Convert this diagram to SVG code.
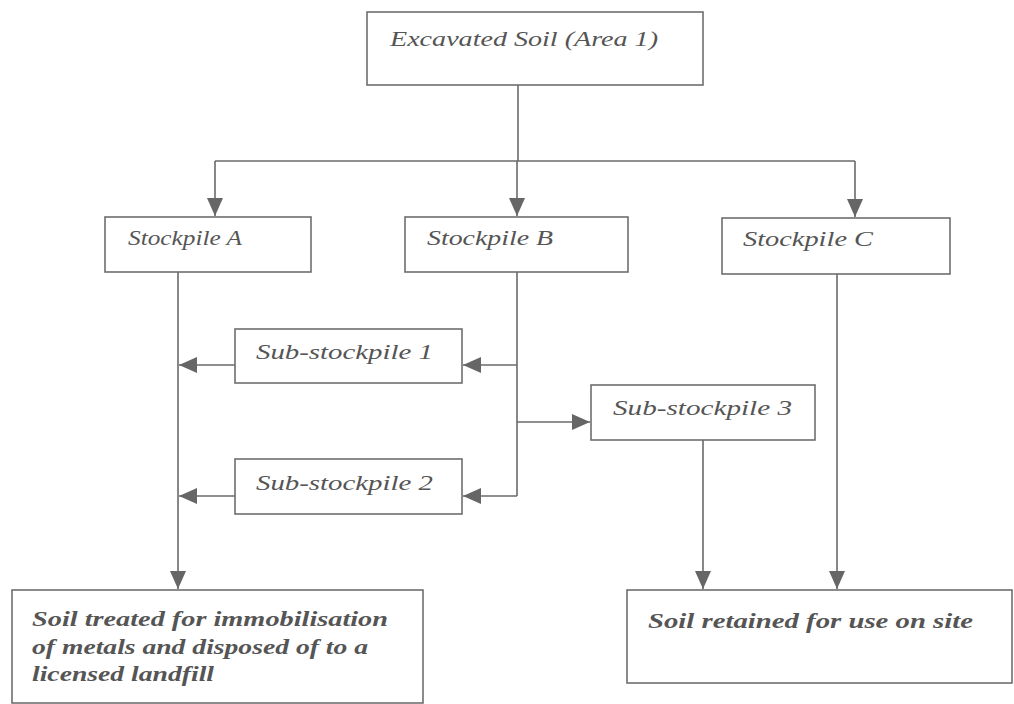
<svg xmlns="http://www.w3.org/2000/svg" width="1014" height="704" viewBox="0 0 1014 704">
<style>
.box{fill:#fff;stroke:#6e6e6e;stroke-width:1.6}
.lbl{font-style:italic;font-size:22px;fill:#555}
.blbl{font-style:italic;font-weight:bold;font-size:21px;fill:#555}
.ln{fill:none;stroke:#6a6a6a;stroke-width:1.6}
</style>
<defs>
<marker id="ah" markerUnits="userSpaceOnUse" markerWidth="18" markerHeight="18" viewBox="0 0 18 16" refX="18" refY="8" orient="auto">
<path d="M0,0 L18,8 L0,16 Z" fill="#666"/>
</marker>
</defs>
<rect width="1014" height="704" fill="#fff"/>
<g id="connectors">
<path class="ln" d="M518,85 V161"/>
<path class="ln" d="M215,161 H855"/>
<path class="ln" d="M215,161 V216" marker-end="url(#ah)"/>
<path class="ln" d="M517,161 V216" marker-end="url(#ah)"/>
<path class="ln" d="M855,161 V217" marker-end="url(#ah)"/>
<path class="ln" d="M178,272 V589" marker-end="url(#ah)"/>
<path class="ln" d="M235,365 H179" marker-end="url(#ah)"/>
<path class="ln" d="M235,496 H179" marker-end="url(#ah)"/>
<path class="ln" d="M517,272 V496"/>
<path class="ln" d="M517,365 H463" marker-end="url(#ah)"/>
<path class="ln" d="M517,496 H463" marker-end="url(#ah)"/>
<path class="ln" d="M517,422 H590" marker-end="url(#ah)"/>
<path class="ln" d="M703,440 V589" marker-end="url(#ah)"/>
<path class="ln" d="M837,274 V589" marker-end="url(#ah)"/>
</g>
<g font-family="Liberation Serif, Times New Roman, serif">
<g id="excavated">
<rect class="box" x="367" y="12" width="336" height="73"/>
<text class="lbl" x="390" y="46" textLength="268" lengthAdjust="spacingAndGlyphs">Excavated Soil (Area 1)</text>
</g>
<g id="stockpileA">
<rect class="box" x="105" y="217" width="206" height="55"/>
<text class="lbl" x="128" y="245" textLength="114" lengthAdjust="spacingAndGlyphs">Stockpile A</text>
</g>
<g id="stockpileB">
<rect class="box" x="405" y="217" width="223" height="55"/>
<text class="lbl" x="427" y="245" textLength="126" lengthAdjust="spacingAndGlyphs">Stockpile B</text>
</g>
<g id="stockpileC">
<rect class="box" x="722" y="218" width="228" height="56"/>
<text class="lbl" x="743" y="246" textLength="130" lengthAdjust="spacingAndGlyphs">Stockpile C</text>
</g>
<g id="sub1">
<rect class="box" x="235" y="329" width="227" height="54"/>
<text class="lbl" x="256" y="359" textLength="177" lengthAdjust="spacingAndGlyphs">Sub-stockpile 1</text>
</g>
<g id="sub2">
<rect class="box" x="235" y="459" width="227" height="55"/>
<text class="lbl" x="256" y="490" textLength="177" lengthAdjust="spacingAndGlyphs">Sub-stockpile 2</text>
</g>
<g id="sub3">
<rect class="box" x="591" y="385" width="224" height="55"/>
<text class="lbl" x="613" y="415" textLength="179" lengthAdjust="spacingAndGlyphs">Sub-stockpile 3</text>
</g>
<g id="landfill">
<rect class="box" x="12" y="590" width="411" height="113"/>
<text class="blbl" x="32" y="626" textLength="356" lengthAdjust="spacingAndGlyphs">Soil treated for immobilisation</text>
<text class="blbl" x="32" y="654" textLength="336" lengthAdjust="spacingAndGlyphs">of metals and disposed of to a</text>
<text class="blbl" x="32" y="681" textLength="182" lengthAdjust="spacingAndGlyphs">licensed landfill</text>
</g>
<g id="retained">
<rect class="box" x="627" y="590" width="385" height="93"/>
<text class="blbl" x="648" y="628" textLength="325" lengthAdjust="spacingAndGlyphs">Soil retained for use on site</text>
</g>
</g>
</svg>
